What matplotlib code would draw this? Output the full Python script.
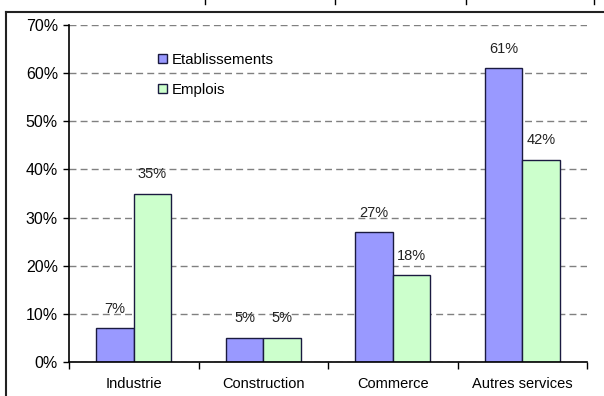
import numpy as np
import matplotlib
matplotlib.use("Agg")
import matplotlib.pyplot as plt
from matplotlib.lines import Line2D
from matplotlib.ticker import FixedLocator, PercentFormatter

plt.rcParams["font.family"] = ["Liberation Sans", "DejaVu Sans"]

# data
secteurs = ["Industrie", "Construction", "Commerce", "Autres services"]
etablissements = [7, 5, 27, 61]
emplois = [35, 5, 18, 42]
series_names = ["Etablissements", "Emplois"]

blue = "#9999ff"
green = "#ccffcc"
edge = "#1a1a40"

fig = plt.figure(figsize=(6.04, 3.96), dpi=100)
ax = fig.add_axes([69 / 604, 34 / 396, 518 / 604, 337 / 396])

x = np.arange(len(secteurs))
w = 0.29
b1 = ax.bar(x - w / 2, etablissements, w, color=blue, edgecolor=edge, linewidth=1.0,
            label=series_names[0], zorder=3)
b2 = ax.bar(x + w / 2, emplois, w, color=green, edgecolor=edge, linewidth=1.0,
            label=series_names[1], zorder=3)

for bars, vals in [(b1, etablissements), (b2, emplois)]:
    for rect, v in zip(bars, vals):
        ax.annotate(f"{v}%", (rect.get_x() + rect.get_width() / 2, v),
                    xytext=(0, 14), textcoords="offset points",
                    ha="center", va="center", fontsize=10.5, color="#222222")

ax.set_xlim(-0.5, len(secteurs) - 0.5)
ax.set_ylim(0, 70)
ax.set_yticks(np.arange(0, 71, 10))
ax.yaxis.set_major_formatter(PercentFormatter(decimals=0))
ax.set_xticks(x)
ax.set_xticklabels(secteurs, fontsize=10.5)
ax.xaxis.set_minor_locator(FixedLocator(np.arange(-0.5, len(secteurs), 1.0)))
ax.tick_params(axis="x", which="major", length=0, pad=11)
ax.tick_params(axis="x", which="minor", length=5, width=1.0, color="black")
ax.tick_params(axis="y", length=4, width=1.0, labelsize=11.5, pad=4, color="black")

ax.grid(axis="y", color="#808080", linestyle=(0, (5, 3)), linewidth=1.0, zorder=0)
for s in ["top", "right"]:
    ax.spines[s].set_visible(False)
for s in ["left", "bottom"]:
    ax.spines[s].set_linewidth(1.2)
    ax.spines[s].set_color("black")
    ax.spines[s].set_zorder(4)

ax.legend(loc="upper left", bbox_to_anchor=(0.16, 0.935), frameon=False,
          handlelength=0.6, handleheight=0.6, handletextpad=0.35,
          labelspacing=1.05, fontsize=10.8, borderaxespad=0)

# outer frame of the chart area
fig.add_artist(Line2D([5.5 / 604, 5.5 / 604], [0, 1 - 12 / 396],
                      transform=fig.transFigure, color="#222222", lw=1.5))
fig.add_artist(Line2D([5.5 / 604, 1], [1 - 12 / 396, 1 - 12 / 396],
                      transform=fig.transFigure, color="#222222", lw=1.5))
for px in [205, 335, 466, 594]:
    fig.add_artist(Line2D([px / 604, px / 604], [1, 1 - 4 / 396],
                          transform=fig.transFigure, color="black", lw=1.0))

fig.savefig("out.png", dpi=100, facecolor="white")
